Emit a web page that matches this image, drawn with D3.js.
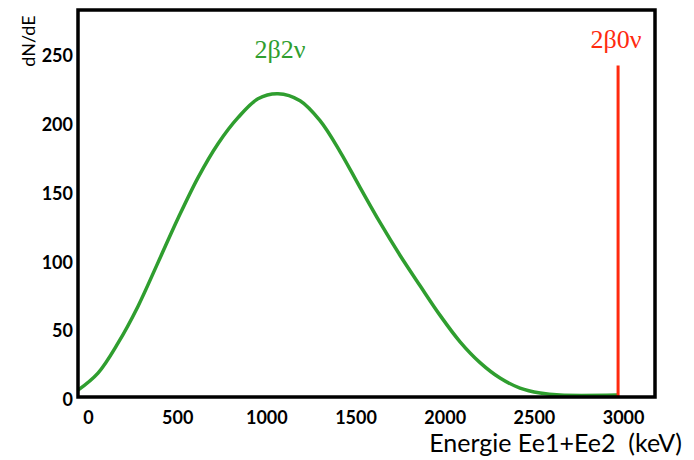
<!DOCTYPE html>
<html>
<head>
<meta charset="utf-8">
<script src="https://cdn.jsdelivr.net/npm/d3@7"></script>
<style>
  body { margin: 0; background: #fff; }
  .tick text { font-family: Lato, "Open Sans", sans-serif; font-weight: bold; }
</style>
</head>
<body>
<div id="chart"></div>
<script>
// Energy (keV) and dN/dE
const energy = [-56, 56, 168, 280, 393, 505, 617, 729, 841, 953, 1065, 1189, 1301, 1413, 1525, 1637, 1750, 1862, 1974, 2086, 2198, 2310, 2422, 2535, 2647, 2966];
const dNdE = [7.2, 19.6, 41.3, 68, 100, 132, 161.6, 186.2, 205.1, 218.8, 222.5, 217.4, 202.9, 180.5, 154.5, 129, 105, 83, 61.5, 42.3, 27.2, 16, 8.7, 5.1, 3.6, 3.6];

// 0νββ peak
const peakEnergy = 2972;
const peakHeight = 243;

const xTicks = [0, 500, 1000, 1500, 2000, 2500, 3000];
const yTicks = [0, 50, 100, 150, 200, 250];

const width = 694;
const height = 460;
const margin = { top: 10, right: 39, bottom: 63, left: 78 };

const green = "#2f9e2f";
const red = "#ff2a0f";
const sans = "Lato, 'Open Sans', sans-serif";
const serif = "'Liberation Serif', serif";

const x = d3.scaleLinear()
  .domain([-56, 3179])
  .range([margin.left, width - margin.right]);
const y = d3.scaleLinear()
  .domain([2.2, 283.3])
  .range([height - margin.bottom, margin.top]);

const svg = d3.select("#chart").append("svg")
  .attr("width", width)
  .attr("height", height);

// 2β2ν spectrum
const pts = energy.map((e, i) => [e, dNdE[i]]);
const line = d3.line()
  .x((d) => x(d[0]))
  .y((d) => y(d[1]))
  .curve(d3.curveCatmullRom.alpha(0.5));

svg.append("path")
  .datum(pts)
  .attr("d", line)
  .attr("fill", "none")
  .attr("stroke", green)
  .attr("stroke-width", 3.5);

// 2β0ν peak
svg.append("line")
  .attr("x1", x(peakEnergy))
  .attr("x2", x(peakEnergy))
  .attr("y1", y(y.domain()[0]))
  .attr("y2", y(peakHeight))
  .attr("stroke", red)
  .attr("stroke-width", 3);

// frame
svg.append("rect")
  .attr("x", margin.left)
  .attr("y", margin.top)
  .attr("width", width - margin.left - margin.right)
  .attr("height", height - margin.top - margin.bottom)
  .attr("fill", "none")
  .attr("stroke", "#000")
  .attr("stroke-width", 3.5);

// axes, labels only
const xAxis = svg.append("g")
  .attr("transform", `translate(0, ${height - margin.bottom})`)
  .call(d3.axisBottom(x).tickValues(xTicks).tickFormat(d3.format("d")).tickSize(0).tickPadding(14));
xAxis.select(".domain").remove();
xAxis.selectAll("text").attr("font-size", 18).attr("fill", "#000");

const yAxis = svg.append("g")
  .attr("transform", `translate(${margin.left}, 0)`)
  .call(d3.axisLeft(y).tickValues(yTicks).tickFormat(d3.format("d")).tickSize(0).tickPadding(5));
yAxis.select(".domain").remove();
yAxis.selectAll("text").attr("font-size", 18).attr("fill", "#000");

// titles
svg.append("text")
  .attr("transform", "translate(35, 41) rotate(-90)")
  .attr("text-anchor", "middle")
  .attr("font-family", sans)
  .attr("font-size", 18)
  .text("dN/dE");

svg.append("text")
  .attr("x", 682)
  .attr("y", 452)
  .attr("text-anchor", "end")
  .attr("font-family", sans)
  .attr("font-size", 25)
  .style("white-space", "pre")
  .text("Energie Ee1+Ee2  (keV)");

svg.append("text")
  .attr("x", 280)
  .attr("y", 58)
  .attr("text-anchor", "middle")
  .attr("font-family", serif)
  .attr("font-size", 26)
  .attr("fill", green)
  .text("2β2ν");

svg.append("text")
  .attr("x", 616)
  .attr("y", 48)
  .attr("text-anchor", "middle")
  .attr("font-family", serif)
  .attr("font-size", 26)
  .attr("fill", red)
  .text("2β0ν");
</script>
</body>
</html>
